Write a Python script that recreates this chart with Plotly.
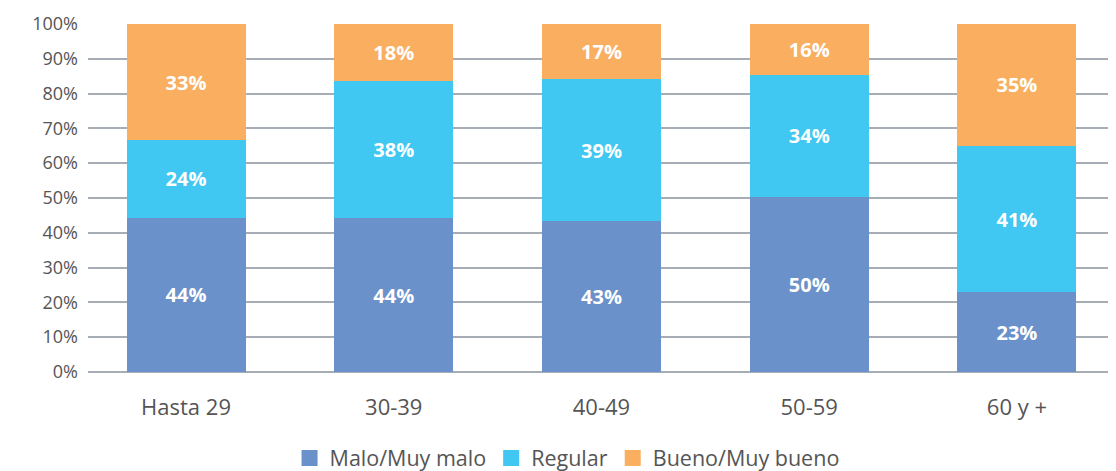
import plotly.graph_objects as go

categories = ["Hasta 29", "30-39", "40-49", "50-59", "60 y +"]
series_names = ["Malo/Muy malo", "Regular", "Bueno/Muy bueno"]
# bar heights as drawn (percent of each bar)
malo = [44.3, 44.2, 43.3, 50.3, 22.9]
regular = [22.3, 39.3, 40.9, 35.1, 42.1]
bueno = [33.4, 16.5, 15.8, 14.6, 35.0]
# printed labels
malo_lbl = [44, 44, 43, 50, 23]
regular_lbl = [24, 38, 39, 34, 41]
bueno_lbl = [33, 18, 17, 16, 35]
y_ticks = [0, 10, 20, 30, 40, 50, 60, 70, 80, 90, 100]

colors = ["#6a91c9", "#40c7f2", "#f9af5f"]
FONT = "Open Sans"
GREY = "#555555"

fig = go.Figure()
for name, vals, lbls, col in zip(series_names, [malo, regular, bueno],
                                 [malo_lbl, regular_lbl, bueno_lbl], colors):
    fig.add_trace(go.Bar(
        x=list(range(len(categories))), y=vals, name=name,
        marker=dict(color=col, line=dict(width=0)),
        text=[f"{v}%" for v in lbls], textposition="inside",
        insidetextanchor="middle",
        textfont=dict(family=FONT, size=20, color="white", weight="bold"),
        width=0.573, showlegend=False, hoverinfo="skip",
    ))
    fig.add_trace(go.Scatter(
        x=[None], y=[None], mode="markers", name=name,
        marker=dict(symbol="square", size=16, color=col),
        showlegend=True,
    ))

# page has an 8px body margin: figure is 1108x463 placed at (8, 8)
fig.update_layout(
    barmode="stack",
    width=1108, height=463,
    margin=dict(l=80, r=0, t=16, b=97, autoexpand=False),
    paper_bgcolor="white", plot_bgcolor="white",
    font=dict(family=FONT, size=18, color=GREY),
    xaxis=dict(
        range=[-0.472, 4.477], tickmode="array",
        tickvals=list(range(len(categories))), ticktext=categories,
        showgrid=False, zeroline=False, showline=False,
        ticks="", ticklabelstandoff=18, automargin=False,
        tickfont=dict(family=FONT, size=22, color=GREY),
    ),
    yaxis=dict(
        range=[-0.6, 100], tickmode="array", tickvals=y_ticks,
        ticktext=[f"{v}%" for v in y_ticks],
        showgrid=True, gridcolor="#a7adb4", gridwidth=1.5,
        zeroline=False, showline=False, ticks="", ticklabelstandoff=9,
        automargin=False,
        tickfont=dict(family=FONT, size=18, color=GREY),
    ),
    legend=dict(
        orientation="h", x=0.466, xanchor="center", y=-0.24, yanchor="middle",
        font=dict(family=FONT, size=21.5, color=GREY),
        itemwidth=30, traceorder="normal",
    ),
    showlegend=True,
)

fig.write_html("out.html")
